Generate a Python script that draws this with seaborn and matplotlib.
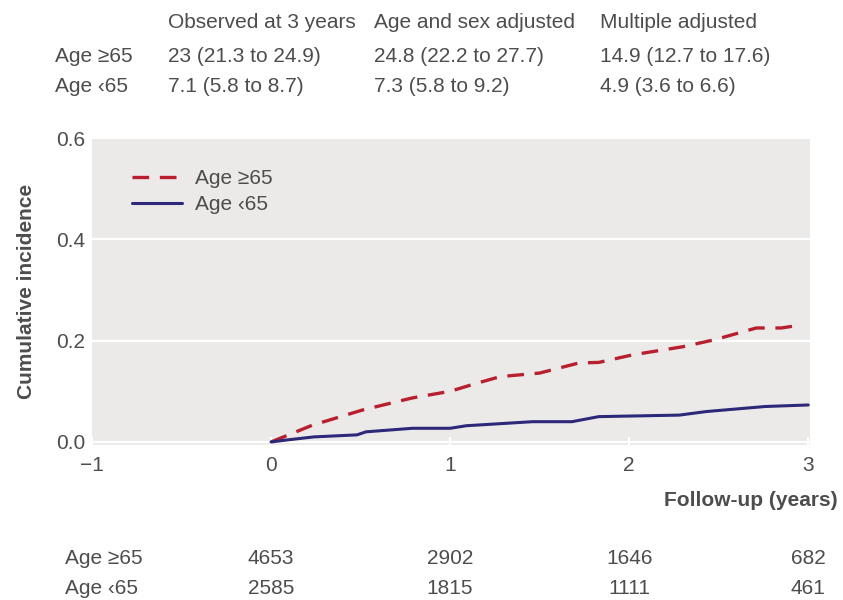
import numpy as np
import matplotlib
matplotlib.use("Agg")
import matplotlib.pyplot as plt
import seaborn as sns
import pandas as pd

# curve points (years, cumulative incidence)
old_years = [0.0, 0.23, 0.51, 0.79, 1.0, 1.15, 1.28, 1.5, 1.72, 1.83, 2.02, 2.3, 2.48, 2.71, 2.85, 2.96]
old_inc = [0.0, 0.033, 0.063, 0.087, 0.100, 0.116, 0.129, 0.136, 0.156, 0.157, 0.172, 0.188, 0.202, 0.225, 0.225, 0.231]
young_years = [0.0, 0.09, 0.24, 0.48, 0.53, 0.79, 1.0, 1.09, 1.46, 1.68, 1.83, 2.28, 2.43, 2.76, 3.0]
young_inc = [0.0, 0.004, 0.010, 0.014, 0.020, 0.027, 0.027, 0.032, 0.040, 0.040, 0.050, 0.053, 0.060, 0.070, 0.073]

groups = ["Age ≥65", "Age ‹65"]
col_heads = ["Observed at 3 years", "Age and sex adjusted", "Multiple adjusted"]
estimates = [["23 (21.3 to 24.9)", "24.8 (22.2 to 27.7)", "14.9 (12.7 to 17.6)"],
             ["7.1 (5.8 to 8.7)", "7.3 (5.8 to 9.2)", "4.9 (3.6 to 6.6)"]]
risk_times = [0, 1, 2, 3]
at_risk = [[4653, 2902, 1646, 682],
           [2585, 1815, 1111, 461]]

RED = "#B8202F"
BLUE = "#2D2878"
TXT = "#4D4D4D"

sns.set_theme(style="darkgrid", rc={"axes.facecolor": "#ECEAE9", "grid.color": "white",
                                    "grid.linewidth": 1.6})
plt.rcParams["font.family"] = ["Liberation Sans", "DejaVu Sans"]

df = pd.concat([
    pd.DataFrame({"years": old_years, "inc": old_inc, "group": groups[0]}),
    pd.DataFrame({"years": young_years, "inc": young_inc, "group": groups[1]}),
])

fig = plt.figure(figsize=(8.43, 6), dpi=100)
ax = fig.add_axes([92 / 843, 1 - 445 / 600, 718 / 843, 307 / 600])

sns.lineplot(data=df[df.group == groups[0]], x="years", y="inc", ax=ax, color=RED,
             lw=2.4, label=groups[0])
ax.lines[-1].set_dashes([5, 3.2])
sns.lineplot(data=df[df.group == groups[1]], x="years", y="inc", ax=ax, color=BLUE,
             lw=2.2, label=groups[1])

ax.set_xlim(-1, 3.01)
ax.set_ylim(-0.006, 0.6)
ax.set_xticks([-1, 0, 1, 2, 3])
ax.set_xticklabels(["−1", "0", "1", "2", "3"])
ax.set_yticks([0, 0.2, 0.4, 0.6])
ax.set_yticklabels(["0.0", "0.2", "0.4", "0.6"])
ax.grid(axis="x", visible=False)
ax.tick_params(axis="x", direction="in", length=6, width=1.5, color="white",
               labelsize=15, labelcolor=TXT, pad=8, bottom=True)
ax.tick_params(axis="y", length=0, labelsize=15, labelcolor=TXT, pad=5)
for s in ax.spines.values():
    s.set_visible(False)
ax.set_xlabel("")
ax.set_ylabel("Cumulative incidence", fontsize=15, fontweight="bold", color=TXT, labelpad=14)

leg = ax.legend(loc="upper left", bbox_to_anchor=(0.03, 0.96), frameon=False, fontsize=15,
                handlelength=2.4, handletextpad=0.6, labelspacing=0.35)
for t in leg.get_texts():
    t.set_color(TXT)

fig.text(838 / 843, 1 - 500 / 600, "Follow-up (years)", ha="right", va="center",
         fontsize=15, fontweight="bold", color=TXT)

# estimates table above the plot
col_x = [168, 374, 600]
for cx, h in zip(col_x, col_heads):
    fig.text(cx / 843, 1 - 22 / 600, h, ha="left", va="center", fontsize=15, color=TXT)
for r, (g, row) in enumerate(zip(groups, estimates)):
    yy = 1 - (57 + 30 * r) / 600
    fig.text(55 / 843, yy, g, ha="left", va="center", fontsize=15, color=TXT)
    for cx, v in zip(col_x, row):
        fig.text(cx / 843, yy, v, ha="left", va="center", fontsize=15, color=TXT)

# numbers at risk below the plot, centred under the x ticks
for r, (g, row) in enumerate(zip(groups, at_risk)):
    yy = -(558 + 30 * r - 445) / 307
    fig.text(65 / 843, 1 - (558 + 30 * r) / 600, g, ha="left", va="center",
             fontsize=15, color=TXT)
    for t, n in zip(risk_times, row):
        ax.text(t, yy, str(n), transform=ax.get_xaxis_transform(), ha="center",
                va="center", fontsize=15, color=TXT, clip_on=False)

fig.savefig("out.png", dpi=100, facecolor="white")
